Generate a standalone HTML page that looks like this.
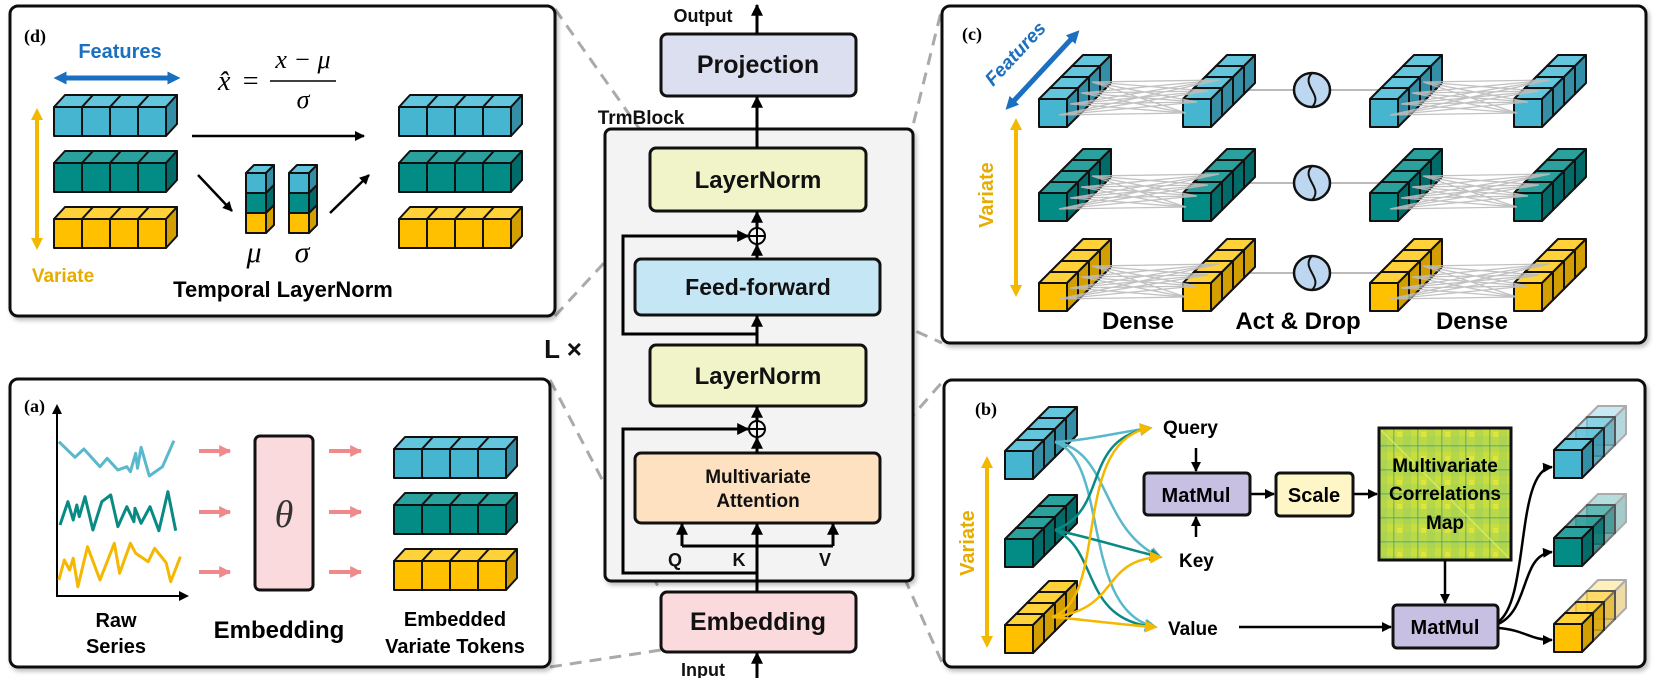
<!DOCTYPE html>
<html><head><meta charset="utf-8">
<style>
html,body{margin:0;padding:0;background:#fff;}
svg{display:block;}
text{font-family:"Liberation Sans",sans-serif;font-weight:bold;}
.m{font-family:"Liberation Serif",serif;font-style:italic;font-weight:normal;}
.cb polygon,.cb rect{stroke:#111;stroke-width:2;stroke-linejoin:round;}
.tp{fill:var(--t);} .sd{fill:var(--s);} .fr{fill:var(--f);}
.B{--f:#45b5d0;--t:#64c6dd;--s:#338ea6;}
.T{--f:#038c85;--t:#2aa19c;--s:#006b69;}
.Y{--f:#ffc000;--t:#ffd23a;--s:#d29e00;}
.FD{--o3:0.35;--o2:0.55;--o1:0.78;}
.k3{opacity:var(--o3,1);} .k2{opacity:var(--o2,1);} .k1{opacity:var(--o1,1);}
</style></head>
<body>
<svg width="1654" height="678" viewBox="0 0 1654 678" xmlns="http://www.w3.org/2000/svg">
<defs>
<marker id="ah" viewBox="0 0 10 10" refX="9" refY="5" markerWidth="4" markerHeight="4" orient="auto-start-reverse"><path d="M0,0 L10,5 L0,10 z" fill="#000"/></marker>
<marker id="ahp" viewBox="0 0 10 10" refX="9" refY="5" markerWidth="3" markerHeight="3" orient="auto"><path d="M0,0 L10,5 L0,10 z" fill="#f08a8a"/></marker>
<marker id="ahb" viewBox="0 0 10 10" refX="5" refY="5" markerWidth="2.6" markerHeight="2.6" orient="auto-start-reverse"><path d="M0,0 L10,5 L0,10 z" fill="#1a6fc0"/></marker>
<marker id="ahy" viewBox="0 0 10 10" refX="5" refY="5" markerWidth="3" markerHeight="3" orient="auto-start-reverse"><path d="M0,0 L10,5 L0,10 z" fill="#f5b800"/></marker>
<marker id="acB" viewBox="0 0 10 10" refX="8" refY="5" markerWidth="5" markerHeight="5" orient="auto"><path d="M0,0 L10,5 L0,10 z" fill="#5ab8cc"/></marker>
<marker id="acT" viewBox="0 0 10 10" refX="8" refY="5" markerWidth="5" markerHeight="5" orient="auto"><path d="M0,0 L10,5 L0,10 z" fill="#0a8a84"/></marker>
<marker id="acY" viewBox="0 0 10 10" refX="8" refY="5" markerWidth="5" markerHeight="5" orient="auto"><path d="M0,0 L10,5 L0,10 z" fill="#f5b800"/></marker>
<filter id="sh" x="-5%" y="-5%" width="110%" height="110%"><feDropShadow dx="2" dy="3" stdDeviation="2" flood-color="#000" flood-opacity="0.25"/></filter>
<g id="hb" class="cb">
<polygon class="tp" points="0,0 11,-12 39,-12 28,0"/>
<polygon class="tp" points="28,0 39,-12 67,-12 56,0"/>
<polygon class="tp" points="56,0 67,-12 95,-12 84,0"/>
<polygon class="tp" points="84,0 95,-12 123,-12 112,0"/>
<polygon class="sd" points="112,0 123,-12 123,17 112,29"/>
<rect class="fr" x="0" y="0" width="28" height="29"/>
<rect class="fr" x="28" y="0" width="28" height="29"/>
<rect class="fr" x="56" y="0" width="28" height="29"/>
<rect class="fr" x="84" y="0" width="28" height="29"/>
</g>
<g id="db" class="cb">
<g class="k3"><polygon class="tp" points="33,-33 44,-44 72,-44 61,-33"/><polygon class="sd" points="61,-33 72,-44 72,-16 61,-5"/><rect class="fr" x="33" y="-33" width="28" height="28"/></g>
<g class="k2"><polygon class="tp" points="22,-22 33,-33 61,-33 50,-22"/><polygon class="sd" points="50,-22 61,-33 61,-5 50,6"/><rect class="fr" x="22" y="-22" width="28" height="28"/></g>
<g class="k1"><polygon class="tp" points="11,-11 22,-22 50,-22 39,-11"/><polygon class="sd" points="39,-11 50,-22 50,6 39,17"/><rect class="fr" x="11" y="-11" width="28" height="28"/></g>
<g><polygon class="tp" points="0,0 11,-11 39,-11 28,0"/><polygon class="sd" points="28,0 39,-11 39,17 28,28"/><rect class="fr" x="0" y="0" width="28" height="28"/></g>
</g>
<g id="vs" class="cb">
<polygon points="0,0 8,-8 28,-8 20,0" fill="#64c6dd"/>
<polygon points="20,0 28,-8 28,12 20,20" fill="#338ea6"/><rect x="0" y="0" width="20" height="20" fill="#45b5d0"/>
<polygon points="20,20 28,12 28,32 20,40" fill="#006b69"/><rect x="0" y="20" width="20" height="20" fill="#038c85"/>
<polygon points="20,40 28,32 28,52 20,60" fill="#d29e00"/><rect x="0" y="40" width="20" height="20" fill="#ffc000"/>
</g>
<path id="mesh" fill="none" stroke="#bbb" stroke-width="1.3" opacity="0.9" d="M20,16L147,14M20,16L158,3M20,16L169,-8M20,16L180,-19M31,5L147,14M31,5L158,3M31,5L169,-8M31,5L180,-19M42,-6L147,14M42,-6L158,3M42,-6L169,-8M42,-6L180,-19M53,-17L147,14M53,-17L158,3M53,-17L169,-8M53,-17L180,-19"/>
<g id="act"><line x1="-90" y1="0" x2="90" y2="0" stroke="#bbb" stroke-width="2"/><ellipse cx="0" cy="0" rx="18" ry="17" fill="#bcd7ef" stroke="#111" stroke-width="2.5"/><path d="M0,-17 C-12,-5 12,5 0,17" fill="none" stroke="#111" stroke-width="2"/></g>
<pattern id="pm" width="24" height="24" patternUnits="userSpaceOnUse" x="1379" y="428">
<rect width="24" height="24" fill="#b8d94a"/>
<rect x="0" y="0" width="24" height="8" fill="#cfe03a" opacity="0.7"/>
<rect x="0" y="0" width="8" height="24" fill="#9fd058" opacity="0.5"/>
<rect x="14" y="0" width="1.5" height="24" fill="#3f9a8a" opacity="0.5"/>
<rect x="0" y="17" width="24" height="1.5" fill="#3f9a8a" opacity="0.5"/>
<rect x="18" y="4" width="5" height="5" fill="#e8e63a" opacity="0.8"/>
</pattern>
</defs>

<!-- dashed connectors -->
<g stroke="#aaa" stroke-width="3" stroke-dasharray="12,8" fill="none">
<line x1="555" y1="9" x2="653" y2="148"/>
<line x1="555" y1="316" x2="653" y2="210"/>
<line x1="550" y1="380" x2="661" y2="592"/>
<line x1="550" y1="667" x2="661" y2="650"/>
<line x1="880" y1="259" x2="942" y2="8"/>
<line x1="880" y1="315" x2="942" y2="343"/>
<line x1="880" y1="453" x2="944" y2="380"/>
<line x1="880" y1="523" x2="944" y2="667"/>
</g>

<g fill="#fff" stroke="#111" stroke-width="3" filter="url(#sh)">
<rect x="10" y="6" width="545" height="310" rx="8"/>
<rect x="10" y="379" width="540" height="288" rx="8"/>
<rect x="942" y="6" width="704" height="337" rx="8"/>
<rect x="944" y="380" width="701" height="287" rx="8"/>
</g>
<rect x="605" y="129" width="308" height="452" rx="6" fill="#f3f3f3" stroke="#111" stroke-width="3" filter="url(#sh)"/>

<!-- center column -->
<g stroke="#111" stroke-width="3">
<rect x="661" y="34" width="195" height="62" rx="6" fill="#dcdff0"/>
<rect x="650" y="148" width="216" height="63" rx="6" fill="#f0f4c8"/>
<rect x="635" y="259" width="245" height="56" rx="6" fill="#c5e6f5"/>
<rect x="650" y="345" width="216" height="61" rx="6" fill="#f0f4c8"/>
<rect x="635" y="453" width="245" height="70" rx="6" fill="#fde1c0"/>
<rect x="661" y="592" width="195" height="60" rx="6" fill="#fadadd"/>
</g>
<g stroke="#000" stroke-width="3" fill="none">
<line x1="757" y1="34" x2="757" y2="5" marker-end="url(#ah)"/>
<line x1="757" y1="148" x2="757" y2="97" marker-end="url(#ah)"/>
<line x1="757" y1="228" x2="757" y2="212" marker-end="url(#ah)"/>
<line x1="757" y1="259" x2="757" y2="245" marker-end="url(#ah)"/>
<line x1="757" y1="345" x2="757" y2="316" marker-end="url(#ah)"/>
<polyline points="757,334 623,334 623,236 748,236" marker-end="url(#ah)"/>
<line x1="757" y1="421" x2="757" y2="407" marker-end="url(#ah)"/>
<line x1="757" y1="453" x2="757" y2="438" marker-end="url(#ah)"/>
<polyline points="757,573 623,573 623,429 748,429" marker-end="url(#ah)"/>
<line x1="757" y1="678" x2="757" y2="653" marker-end="url(#ah)"/>
<line x1="757" y1="592" x2="757" y2="524" marker-end="url(#ah)"/>
<polyline points="682,546 833,546"/>
<line x1="682" y1="546" x2="682" y2="524" marker-end="url(#ah)"/>
<line x1="833" y1="546" x2="833" y2="524" marker-end="url(#ah)"/>
<circle cx="757" cy="236" r="8" stroke-width="2"/>
<line x1="749" y1="236" x2="765" y2="236" stroke-width="2"/><line x1="757" y1="228" x2="757" y2="244" stroke-width="2"/>
<circle cx="757" cy="429" r="8" stroke-width="2"/>
<line x1="749" y1="429" x2="765" y2="429" stroke-width="2"/><line x1="757" y1="421" x2="757" y2="437" stroke-width="2"/>
</g>
<g text-anchor="middle" fill="#111">
<text x="703" y="22" font-size="18">Output</text>
<text x="758" y="73" font-size="25">Projection</text>
<text x="641" y="124" font-size="19">TrmBlock</text>
<text x="758" y="188" font-size="24">LayerNorm</text>
<text x="758" y="295" font-size="23">Feed-forward</text>
<text x="758" y="384" font-size="24">LayerNorm</text>
<text x="758" y="483" font-size="19">Multivariate</text>
<text x="758" y="507" font-size="19">Attention</text>
<text x="675" y="566" font-size="18">Q</text>
<text x="739" y="566" font-size="18">K</text>
<text x="825" y="566" font-size="18">V</text>
<text x="758" y="630" font-size="25">Embedding</text>
<text x="703" y="676" font-size="18">Input</text>
<text x="563" y="358" font-size="26" font-weight="normal">L ×</text>
</g>

<!-- panel d -->
<text x="24" y="42" font-size="18" style="font-family:'Liberation Serif',serif">(d)</text>
<text x="120" y="58" font-size="20" fill="#1a6fc0" text-anchor="middle">Features</text>
<line x1="60" y1="78" x2="174" y2="78" stroke="#1a6fc0" stroke-width="5" marker-start="url(#ahb)" marker-end="url(#ahb)"/>
<line x1="37" y1="114" x2="37" y2="244" stroke="#f5b800" stroke-width="4" marker-start="url(#ahy)" marker-end="url(#ahy)"/>
<text x="63" y="282" font-size="19" fill="#e6ad00" text-anchor="middle">Variate</text>
<text class="m" x="218" y="90" font-size="28">x̂</text>
<text class="m" x="241" y="90" font-size="28">=</text>
<text class="m" x="303" y="68" font-size="26" text-anchor="middle">x − μ</text>
<line x1="270" y1="81" x2="336" y2="81" stroke="#000" stroke-width="1.5"/>
<text class="m" x="303" y="108" font-size="26" text-anchor="middle">σ</text>
<text class="m" x="254" y="262" font-size="30" text-anchor="middle">μ</text>
<text class="m" x="302" y="262" font-size="30" text-anchor="middle">σ</text>
<text x="283" y="297" font-size="22" text-anchor="middle">Temporal LayerNorm</text>
<g stroke="#000" stroke-width="2.5">
<line x1="192" y1="136" x2="364" y2="136" marker-end="url(#ah)"/>
<line x1="198" y1="175" x2="232" y2="211" marker-end="url(#ah)"/>
<line x1="330" y1="213" x2="369" y2="175" marker-end="url(#ah)"/>
</g>
<use href="#hb" x="54" y="107" class="B"/><use href="#hb" x="54" y="163" class="T"/><use href="#hb" x="54" y="219" class="Y"/>
<use href="#hb" x="399" y="107" class="B"/><use href="#hb" x="399" y="163" class="T"/><use href="#hb" x="399" y="219" class="Y"/>
<use href="#vs" x="246" y="173"/><use href="#vs" x="289" y="173"/>

<!-- panel a -->
<text x="24" y="412" font-size="18" style="font-family:'Liberation Serif',serif">(a)</text>
<polyline points="57,412 57,596 184,596" stroke="#000" stroke-width="2" fill="none"/>
<path d="M57,404 L52,414 L62,414 z"/><path d="M189,596 L179,591 L179,601 z"/>
<g fill="none" stroke-width="3" stroke-linejoin="round">
<polyline stroke="#5ab8cc" points="58.9,441.7 75,457.3 83.9,449 100,466.7 107.1,458.3 117.9,470 126.8,466.7 130.4,471.7 135.7,453.3 137.5,468.3 141.1,447.3 149.3,476 162.5,466.7 173.9,440.7"/>
<polyline stroke="#0a8a84" points="60,525 67.9,501.7 73.2,520 76.8,505 79.3,516.7 85,496.7 92.9,530 101.8,501.7 110.7,495 117.9,526.7 126.8,506.7 133.9,521.7 135,508.3 141.1,523.3 150,506.7 158.9,530.7 167.9,491.7 175.7,530.7"/>
<polyline stroke="#f5b800" points="58.9,580 64.3,560 69.6,570 73.2,558.3 77.9,586.7 87.5,546.7 100,580 114.3,543.3 119.6,573.3 130.4,543.3 135.7,553.3 148.2,561.7 154.6,548.3 166.1,562.7 170.7,581.7 180.4,556.7"/>
</g>
<rect x="255" y="436" width="58" height="154" rx="5" fill="#fadadd" stroke="#111" stroke-width="3"/>
<text class="m" x="284" y="527" font-size="38" text-anchor="middle" fill="#333">θ</text>
<text x="116" y="627" font-size="20" text-anchor="middle">Raw</text>
<text x="116" y="653" font-size="20" text-anchor="middle">Series</text>
<text x="279" y="638" font-size="24" text-anchor="middle">Embedding</text>
<text x="455" y="626" font-size="20" text-anchor="middle">Embedded</text>
<text x="455" y="653" font-size="20" text-anchor="middle">Variate Tokens</text>
<g stroke="#f08a8a" stroke-width="4">
<line x1="199" y1="451" x2="230" y2="451" marker-end="url(#ahp)"/>
<line x1="199" y1="512" x2="230" y2="512" marker-end="url(#ahp)"/>
<line x1="199" y1="572" x2="230" y2="572" marker-end="url(#ahp)"/>
<line x1="329" y1="451" x2="361" y2="451" marker-end="url(#ahp)"/>
<line x1="329" y1="512" x2="361" y2="512" marker-end="url(#ahp)"/>
<line x1="329" y1="572" x2="361" y2="572" marker-end="url(#ahp)"/>
</g>
<use href="#hb" x="394" y="449" class="B"/><use href="#hb" x="394" y="505" class="T"/><use href="#hb" x="394" y="561" class="Y"/>

<!-- panel c -->
<text x="962" y="40" font-size="18" style="font-family:'Liberation Serif',serif">(c)</text>
<line x1="1010" y1="105" x2="1075" y2="35" stroke="#1a6fc0" stroke-width="5" marker-start="url(#ahb)" marker-end="url(#ahb)"/>
<text x="1020" y="58" font-size="19" fill="#1a6fc0" text-anchor="middle" font-style="italic" transform="rotate(-47 1020 58)">Features</text>
<line x1="1016" y1="124" x2="1016" y2="291" stroke="#f5b800" stroke-width="4" marker-start="url(#ahy)" marker-end="url(#ahy)"/>
<text x="993" y="195" font-size="20" fill="#e6ad00" text-anchor="middle" transform="rotate(-90 993 195)">Variate</text>
<use href="#act" x="1312" y="90"/><use href="#act" x="1312" y="183"/><use href="#act" x="1312" y="273"/>
<use href="#db" x="1039" y="99" class="B"/><use href="#db" x="1183" y="99" class="B"/><use href="#db" x="1370" y="99" class="B"/><use href="#db" x="1514" y="99" class="B"/>
<use href="#db" x="1039" y="193" class="T"/><use href="#db" x="1183" y="193" class="T"/><use href="#db" x="1370" y="193" class="T"/><use href="#db" x="1514" y="193" class="T"/>
<use href="#db" x="1039" y="283" class="Y"/><use href="#db" x="1183" y="283" class="Y"/><use href="#db" x="1370" y="283" class="Y"/><use href="#db" x="1514" y="283" class="Y"/>
<use href="#mesh" x="1039" y="99"/><use href="#mesh" x="1370" y="99"/>
<use href="#mesh" x="1039" y="193"/><use href="#mesh" x="1370" y="193"/>
<use href="#mesh" x="1039" y="283"/><use href="#mesh" x="1370" y="283"/>
<text x="1138" y="329" font-size="24" text-anchor="middle">Dense</text>
<text x="1298" y="329" font-size="24" text-anchor="middle">Act &amp; Drop</text>
<text x="1472" y="329" font-size="24" text-anchor="middle">Dense</text>

<!-- panel b -->
<text x="975" y="415" font-size="18" style="font-family:'Liberation Serif',serif">(b)</text>
<line x1="987" y1="462" x2="987" y2="642" stroke="#f5b800" stroke-width="4" marker-start="url(#ahy)" marker-end="url(#ahy)"/>
<text x="974" y="543" font-size="20" fill="#e6ad00" text-anchor="middle" transform="rotate(-90 974 543)">Variate</text>
<use href="#db" x="1005" y="451" class="B"/><use href="#db" x="1005" y="539" class="T"/><use href="#db" x="1005" y="625" class="Y"/>
<g fill="none" stroke-width="2.5">
<path d="M1055,442 C1090,440 1120,432 1150,428" stroke="#5ab8cc" marker-end="url(#acB)"/>
<path d="M1055,442 C1110,450 1100,530 1160,557" stroke="#5ab8cc" marker-end="url(#acB)"/>
<path d="M1055,442 C1110,460 1080,610 1155,627" stroke="#5ab8cc" marker-end="url(#acB)"/>
<path d="M1055,530 C1110,510 1080,440 1150,428" stroke="#0a8a84" marker-end="url(#acT)"/>
<path d="M1055,530 C1100,540 1130,550 1160,557" stroke="#0a8a84" marker-end="url(#acT)"/>
<path d="M1055,530 C1100,550 1080,620 1155,627" stroke="#0a8a84" marker-end="url(#acT)"/>
<path d="M1052,617 C1110,600 1070,440 1150,428" stroke="#f5b800" marker-end="url(#acY)"/>
<path d="M1052,617 C1120,610 1100,560 1160,557" stroke="#f5b800" marker-end="url(#acY)"/>
<path d="M1052,617 C1090,620 1120,625 1155,627" stroke="#f5b800" marker-end="url(#acY)"/>
</g>
<text x="1163" y="434" font-size="19">Query</text>
<text x="1179" y="567" font-size="19">Key</text>
<text x="1168" y="635" font-size="19">Value</text>
<g stroke="#000" stroke-width="2.5" fill="none">
<line x1="1196" y1="448" x2="1196" y2="471" marker-end="url(#ah)"/>
<line x1="1196" y1="537" x2="1196" y2="517" marker-end="url(#ah)"/>
<line x1="1250" y1="494" x2="1274" y2="494" marker-end="url(#ah)"/>
<line x1="1353" y1="494" x2="1377" y2="494" marker-end="url(#ah)"/>
<line x1="1239" y1="627" x2="1391" y2="627" marker-end="url(#ah)"/>
<line x1="1445" y1="560" x2="1445" y2="603" marker-end="url(#ah)"/>
<path d="M1498,622 C1530,600 1515,470 1552,467" marker-end="url(#ah)"/>
<path d="M1498,624 C1530,610 1520,555 1552,552" marker-end="url(#ah)"/>
<path d="M1498,628 C1525,630 1530,640 1552,640" marker-end="url(#ah)"/>
</g>
<g stroke="#111" stroke-width="3">
<rect x="1144" y="473" width="106" height="42" rx="4" fill="#c8c0e3"/>
<rect x="1276" y="473" width="77" height="43" rx="4" fill="#fff6c8"/>
<rect x="1393" y="605" width="105" height="43" rx="4" fill="#c8c0e3"/>
<rect x="1379" y="428" width="132" height="132" fill="url(#pm)"/>
</g>
<line x1="1381" y1="430" x2="1509" y2="558" stroke="#e8f060" stroke-width="1.5" opacity="0.7"/>
<text x="1196" y="502" font-size="20" text-anchor="middle">MatMul</text>
<text x="1314" y="502" font-size="20" text-anchor="middle">Scale</text>
<text x="1445" y="634" font-size="20" text-anchor="middle">MatMul</text>
<g text-anchor="middle" font-size="19">
<text x="1445" y="472">Multivariate</text>
<text x="1445" y="500">Correlations</text>
<text x="1445" y="529">Map</text>
</g>
<use href="#db" x="1554" y="450" class="B FD"/><use href="#db" x="1554" y="538" class="T FD"/><use href="#db" x="1554" y="624" class="Y FD"/>
</svg>
</body></html>
